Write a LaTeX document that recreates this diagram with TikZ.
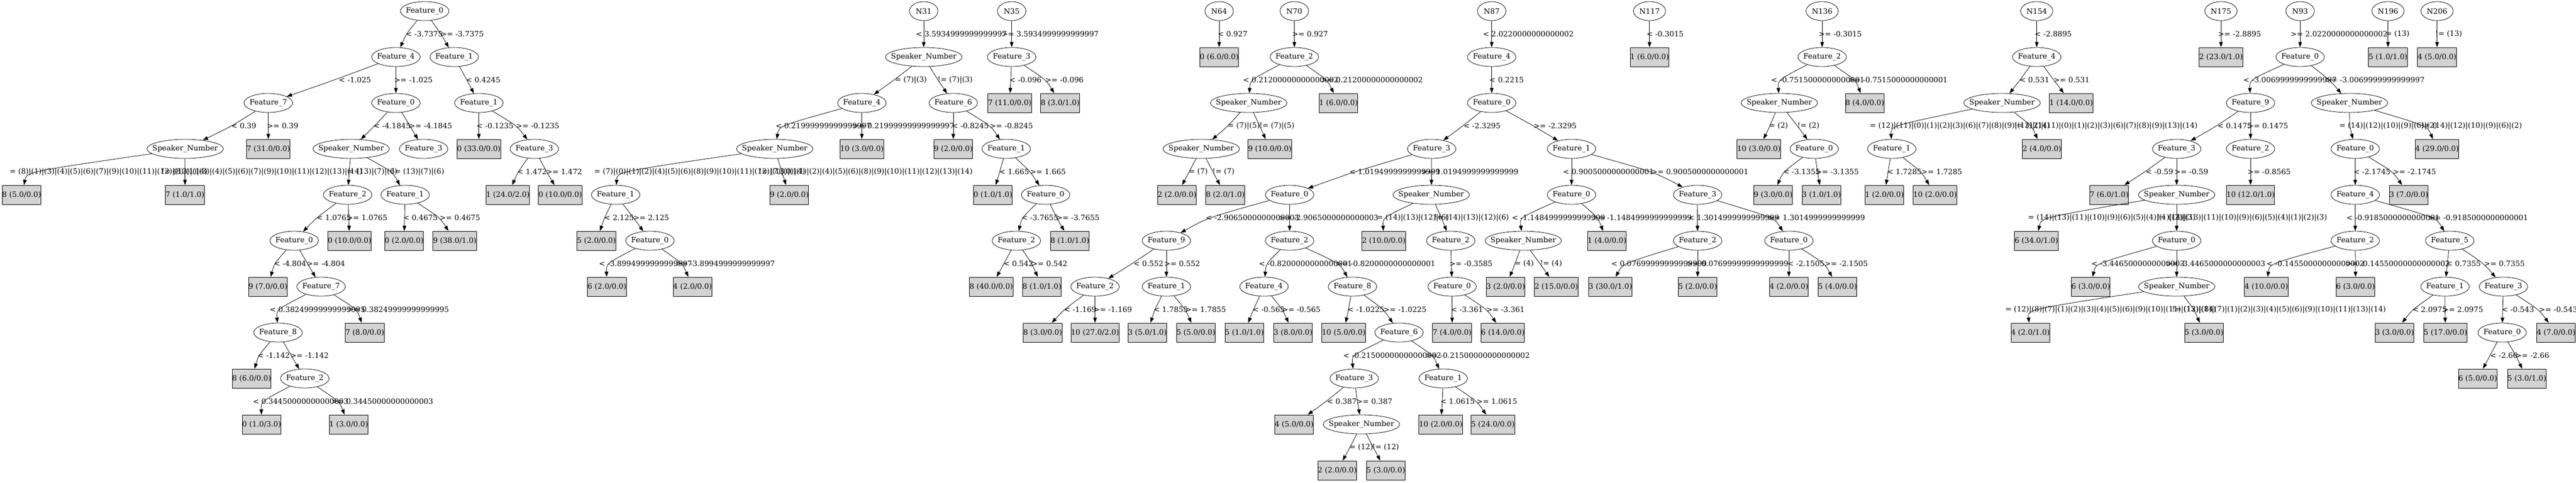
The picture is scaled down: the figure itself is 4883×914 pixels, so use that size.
\documentclass[tikz,border=0pt]{standalone}
\usepackage{fontspec}
\setmainfont{DejaVu Serif}
\usepackage{tikz}
\usetikzlibrary{arrows.meta,shapes.geometric}
\definecolor{leafgray}{HTML}{D3D3D3}
% one branch: parent, child, x of the bend, x of the label, row of the child, label
\newcommand\tbranch[6]{%
  \draw[br] (#1) .. controls (#3,{87*#5-22.5}) .. (#2) node[lbl] at (#4,{87*#5-22.5}) {#6};}

\begin{document}
\begin{tikzpicture}[x=1pt,y=-1pt,
  every node/.style={font=\fontsize{14}{16}\selectfont},
  ell/.style={ellipse,draw,line width=.8pt,minimum height=36pt,inner sep=0pt,
    execute at begin node={\hbox to 0pt\bgroup\hss},execute at end node={\hss\egroup}},
  feat/.style={ell,minimum width=92pt},
  spk/.style={ell,minimum width=145pt},
  root/.style={ell,minimum width=54pt},
  leaf/.style={rectangle,draw,line width=.8pt,fill=leafgray,minimum height=36pt,inner xsep=0pt},
  lbl/.style={anchor=west,inner sep=0pt},
  br/.style={-{Triangle[length=10pt,width=7pt]},line width=.8pt}]
\useasboundingbox (0,0) rectangle (4883,914);
% first tree
\node[feat] (a0) at (805,21) {Feature\_0};
\node[feat] (a1) at (750.5,108) {Feature\_4};
\node[feat] (a2) at (861,108) {Feature\_1};
\node[feat] (a3) at (508.6,195) {Feature\_7};
\node[feat] (a4) at (750.5,195) {Feature\_0};
\node[feat] (a5) at (907.7,195) {Feature\_1};
\node[spk] (a6) at (351,282) {Speaker\_Number};
\node[leaf] (a7) at (508.6,282) {7 (31.0/0.0)};
\node[spk] (a8) at (665.7,282) {Speaker\_Number};
\node[feat] (a9) at (803,282) {Feature\_3};
\node[leaf] (a10) at (907.7,282) {0 (33.0/0.0)};
\node[feat] (a11) at (1013,282) {Feature\_3};
\node[leaf] (a12) at (41,369) {8 (5.0/0.0)};
\node[leaf] (a13) at (350.6,369) {7 (1.0/1.0)};
\node[feat] (a14) at (659,369) {Feature\_2};
\node[feat] (a15) at (768,369) {Feature\_1};
\node[leaf] (a16) at (962.6,369) {1 (24.0/2.0)};
\node[leaf] (a17) at (1062,369) {0 (10.0/0.0)};
\node[feat] (a18) at (557.7,456) {Feature\_0};
\node[leaf] (a19) at (662.6,456) {0 (10.0/0.0)};
\node[leaf] (a20) at (766,456) {0 (2.0/0.0)};
\node[leaf] (a21) at (862,456) {9 (38.0/1.0)};
\node[leaf] (a22) at (508,543) {9 (7.0/0.0)};
\node[feat] (a23) at (608.6,543) {Feature\_7};
\node[feat] (a24) at (527,630) {Feature\_8};
\node[leaf] (a25) at (691.6,630) {7 (8.0/0.0)};
\node[leaf] (a26) at (477,717) {8 (6.0/0.0)};
\node[feat] (a27) at (577.8,717) {Feature\_2};
\node[leaf] (a28) at (496,804) {0 (1.0/3.0)};
\node[leaf] (a29) at (660.8,804) {1 (3.0/0.0)};
% N31
\node[root] (b0) at (1751,21) {N31};
\node[spk] (b1) at (1751,108) {Speaker\_Number};
\node[feat] (b2) at (1633.7,195) {Feature\_4};
\node[feat] (b3) at (1807,195) {Feature\_6};
\node[spk] (b4) at (1468.5,282) {Speaker\_Number};
\node[leaf] (b5) at (1633.7,282) {10 (3.0/0.0)};
\node[leaf] (b6) at (1807,282) {9 (2.0/0.0)};
\node[feat] (b7) at (1907.4,282) {Feature\_1};
\node[feat] (b8) at (1167,369) {Feature\_1};
\node[leaf] (b9) at (1496,369) {9 (2.0/0.0)};
\node[leaf] (b10) at (1882,369) {0 (1.0/1.0)};
\node[feat] (b11) at (1982,369) {Feature\_0};
\node[leaf] (b12) at (1130.5,456) {5 (2.0/0.0)};
\node[feat] (b13) at (1232,456) {Feature\_0};
\node[feat] (b14) at (1926.6,456) {Feature\_2};
\node[leaf] (b15) at (2028,456) {8 (1.0/1.0)};
\node[leaf] (b16) at (1150.6,543) {6 (2.0/0.0)};
\node[leaf] (b17) at (1312.7,543) {4 (2.0/0.0)};
\node[leaf] (b18) at (1879,543) {8 (40.0/0.0)};
\node[leaf] (b19) at (1975,543) {8 (1.0/1.0)};
% N35, N64, N70
\node[root] (c0) at (1917.7,21) {N35};
\node[feat] (c1) at (1917.7,108) {Feature\_3};
\node[leaf] (c2) at (1914,195) {7 (11.0/0.0)};
\node[leaf] (c3) at (2009.6,195) {8 (3.0/1.0)};
\node[root] (d0) at (2311,21) {N64};
\node[leaf] (d1) at (2311,108) {0 (6.0/0.0)};
\node[root] (e0) at (2453.5,21) {N70};
\node[feat] (e1) at (2453.5,108) {Feature\_2};
\node[spk] (e2) at (2367,195) {Speaker\_Number};
\node[leaf] (e3) at (2537,195) {1 (6.0/0.0)};
\node[spk] (e4) at (2277,282) {Speaker\_Number};
\node[leaf] (e5) at (2407,282) {9 (10.0/0.0)};
\node[leaf] (e6) at (2231,369) {2 (2.0/0.0)};
\node[leaf] (e7) at (2322.6,369) {8 (2.0/1.0)};
% N87
\node[root] (f0) at (2827.6,21) {N87};
\node[feat] (f1) at (2827.6,108) {Feature\_4};
\node[feat] (f2) at (2827.6,195) {Feature\_0};
\node[feat] (f3) at (2713.8,282) {Feature\_3};
\node[feat] (f4) at (2979,282) {Feature\_1};
\node[feat] (f5) at (2444.5,369) {Feature\_0};
\node[spk] (f6) at (2713,369) {Speaker\_Number};
\node[feat] (f7) at (2979,369) {Feature\_0};
\node[feat] (f8) at (3218,369) {Feature\_3};
\node[feat] (f9) at (2211,456) {Feature\_9};
\node[feat] (f10) at (2444.5,456) {Feature\_2};
\node[leaf] (f11) at (2623,456) {2 (10.0/0.0)};
\node[feat] (f12) at (2750,456) {Feature\_2};
\node[spk] (f13) at (2887.4,456) {Speaker\_Number};
\node[leaf] (f14) at (3046,456) {1 (4.0/0.0)};
\node[feat] (f15) at (3218,456) {Feature\_2};
\node[feat] (f16) at (3391,456) {Feature\_0};
\node[feat] (f17) at (2075.7,543) {Feature\_2};
\node[feat] (f18) at (2211,543) {Feature\_1};
\node[feat] (f19) at (2396,543) {Feature\_4};
\node[feat] (f20) at (2563.75,543) {Feature\_8};
\node[feat] (f21) at (2752.6,543) {Feature\_0};
\node[leaf] (f22) at (2854,543) {3 (2.0/0.0)};
\node[leaf] (f23) at (2950,543) {2 (15.0/0.0)};
\node[leaf] (f24) at (3052.6,543) {3 (30.0/1.0)};
\node[leaf] (f25) at (3218,543) {5 (2.0/0.0)};
\node[leaf] (f26) at (3391,543) {4 (2.0/0.0)};
\node[leaf] (f27) at (3483,543) {5 (4.0/0.0)};
\node[leaf] (f28) at (1976.6,630) {8 (3.0/0.0)};
\node[leaf] (f29) at (2075.7,630) {10 (27.0/2.0)};
\node[leaf] (f30) at (2174.8,630) {3 (5.0/1.0)};
\node[leaf] (f31) at (2266.8,630) {5 (5.0/0.0)};
\node[leaf] (f32) at (2358.7,630) {5 (1.0/1.0)};
\node[leaf] (f33) at (2451,630) {3 (8.0/0.0)};
\node[leaf] (f34) at (2547,630) {10 (5.0/0.0)};
\node[feat] (f35) at (2652,630) {Feature\_6};
\node[leaf] (f36) at (2752.6,630) {7 (4.0/0.0)};
\node[leaf] (f37) at (2848.6,630) {6 (14.0/0.0)};
\node[feat] (f38) at (2567,717) {Feature\_3};
\node[feat] (f39) at (2735.6,717) {Feature\_1};
\node[leaf] (f40) at (2453,804) {4 (5.0/0.0)};
\node[spk] (f41) at (2580.7,804) {Speaker\_Number};
\node[leaf] (f42) at (2731,804) {10 (2.0/0.0)};
\node[leaf] (f43) at (2829.8,804) {5 (24.0/0.0)};
\node[leaf] (f44) at (2534.7,891) {2 (2.0/0.0)};
\node[leaf] (f45) at (2626.7,891) {5 (3.0/0.0)};
% N117, N136
\node[root,minimum width=61pt] (g0) at (3126.8,21) {N117};
\node[leaf] (g1) at (3126.8,108) {1 (6.0/0.0)};
\node[root,minimum width=61pt] (h0) at (3454,21) {N136};
\node[feat] (h1) at (3454,108) {Feature\_2};
\node[spk] (h2) at (3372.8,195) {Speaker\_Number};
\node[leaf] (h3) at (3534.8,195) {8 (4.0/0.0)};
\node[leaf] (h4) at (3334,282) {10 (3.0/0.0)};
\node[feat] (h5) at (3439,282) {Feature\_0};
\node[leaf] (h6) at (3361,369) {9 (3.0/0.0)};
\node[leaf] (h7) at (3452.7,369) {3 (1.0/1.0)};
% N154, N175
\node[root,minimum width=61pt] (i0) at (3860.8,21) {N154};
\node[feat] (i1) at (3860.8,108) {Feature\_4};
\node[spk] (i2) at (3795,195) {Speaker\_Number};
\node[leaf] (i3) at (3926,195) {1 (14.0/0.0)};
\node[feat] (i4) at (3586,282) {Feature\_1};
\node[leaf] (i5) at (3870.6,282) {2 (4.0/0.0)};
\node[leaf] (i6) at (3572,369) {1 (2.0/0.0)};
\node[leaf] (i7) at (3668,369) {10 (2.0/0.0)};
\node[root,minimum width=61pt] (j0) at (4210,21) {N175};
\node[leaf] (j1) at (4210,108) {2 (23.0/1.0)};
% N93
\node[root] (k0) at (4360,21) {N93};
\node[feat] (k1) at (4360,108) {Feature\_0};
\node[feat] (k2) at (4266,195) {Feature\_9};
\node[spk] (k3) at (4453.5,195) {Speaker\_Number};
\node[feat] (k4) at (4126,282) {Feature\_3};
\node[feat] (k5) at (4266,282) {Feature\_2};
\node[feat] (k6) at (4464.5,282) {Feature\_0};
\node[leaf] (k7) at (4619.6,282) {4 (29.0/0.0)};
\node[leaf] (k8) at (3998,369) {7 (6.0/1.0)};
\node[spk] (k9) at (4126,369) {Speaker\_Number};
\node[leaf] (k10) at (4266,369) {10 (12.0/1.0)};
\node[feat] (k11) at (4464.5,369) {Feature\_4};
\node[leaf] (k12) at (4566,369) {3 (7.0/0.0)};
\node[leaf] (k13) at (3860,456) {6 (34.0/1.0)};
\node[feat] (k14) at (4126,456) {Feature\_0};
\node[feat] (k15) at (4464.5,456) {Feature\_2};
\node[feat] (k16) at (4643.7,456) {Feature\_5};
\node[leaf] (k17) at (3963,543) {6 (3.0/0.0)};
\node[spk] (k18) at (4126,543) {Speaker\_Number};
\node[leaf] (k19) at (4296,543) {4 (10.0/0.0)};
\node[leaf] (k20) at (4465,543) {6 (3.0/0.0)};
\node[feat] (k21) at (4634.7,543) {Feature\_1};
\node[feat] (k22) at (4745.4,543) {Feature\_3};
\node[leaf] (k23) at (3848.75,630) {4 (2.0/1.0)};
\node[leaf] (k24) at (4177.8,630) {5 (3.0/0.0)};
\node[leaf] (k25) at (4539,630) {3 (3.0/0.0)};
\node[leaf] (k26) at (4635.4,630) {5 (17.0/0.0)};
\node[feat] (k27) at (4743,630) {Feature\_0};
\node[leaf] (k28) at (4845,630) {4 (7.0/0.0)};
\node[leaf] (k29) at (4696.8,717) {6 (5.0/0.0)};
\node[leaf] (k30) at (4789.7,717) {5 (3.0/1.0)};
% N196, N206
\node[root,minimum width=61pt] (l0) at (4526.6,21) {N196};
\node[leaf] (l1) at (4526.6,108) {5 (1.0/1.0)};
\node[root,minimum width=61pt] (m0) at (4619.6,21) {N206};
\node[leaf] (m1) at (4619.6,108) {4 (5.0/0.0)};

\tbranch{a0}{a1}{770}{769}{1}{< -3.7375}
\tbranch{a0}{a2}{836}{835}{1}{>= -3.7375}
\tbranch{a1}{a3}{634}{642}{2}{< -1.025}
\tbranch{a1}{a4}{750.5}{747}{2}{>= -1.025}
\tbranch{a3}{a6}{440}{438}{3}{< 0.39}
\tbranch{a3}{a7}{508.6}{506}{3}{>= 0.39}
\tbranch{a6}{a12}{51}{18}{4}{= (8)|(1)|(3)|(4)|(5)|(6)|(7)|(9)|(10)|(11)|(12)|(13)|(14)}
\tbranch{a6}{a13}{350.6}{306}{4}{!= (8)|(1)|(3)|(4)|(5)|(6)|(7)|(9)|(10)|(11)|(12)|(13)|(14)}
\tbranch{a4}{a8}{710}{708}{3}{< -4.1845}
\tbranch{a4}{a9}{777}{775}{3}{>= -4.1845}
\tbranch{a8}{a14}{662}{659}{4}{= (13)|(7)|(6)}
\tbranch{a8}{a15}{744}{742}{4}{!= (13)|(7)|(6)}
\tbranch{a14}{a18}{600}{600}{5}{< 1.0765}
\tbranch{a14}{a19}{661}{657}{5}{>= 1.0765}
\tbranch{a15}{a20}{767}{764}{5}{< 0.4675}
\tbranch{a15}{a21}{834}{833}{5}{>= 0.4675}
\tbranch{a18}{a22}{520}{519}{6}{< -4.804}
\tbranch{a18}{a23}{583}{581}{6}{>= -4.804}
\tbranch{a23}{a24}{524}{511}{7}{< 0.38249999999999995}
\tbranch{a23}{a25}{677}{658}{7}{>= 0.38249999999999995}
\tbranch{a24}{a26}{490}{488}{8}{< -1.142}
\tbranch{a24}{a27}{552}{550}{8}{>= -1.142}
\tbranch{a27}{a28}{495}{479}{9}{< 0.34450000000000003}
\tbranch{a27}{a29}{643}{628}{9}{>= 0.34450000000000003}
\tbranch{a2}{a5}{885}{883}{2}{< 0.4245}
\tbranch{a5}{a10}{907.7}{903}{3}{< -0.1235}
\tbranch{a5}{a11}{980}{978}{3}{>= -0.1235}
\tbranch{a11}{a16}{982}{980}{4}{< 1.472}
\tbranch{a11}{a17}{1036}{1035}{4}{>= 1.472}

\tbranch{b0}{b1}{1751}{1736}{1}{< 3.5934999999999997}
\tbranch{b1}{b2}{1695}{1696}{2}{= (7)|(3)}
\tbranch{b1}{b3}{1778}{1777}{2}{!= (7)|(3)}
\tbranch{b2}{b4}{1477}{1470}{3}{< 0.21999999999999997}
\tbranch{b2}{b5}{1633.7}{1616}{3}{>= 0.21999999999999997}
\tbranch{b4}{b8}{1170}{1126}{4}{= (7)|(0)|(1)|(2)|(4)|(5)|(6)|(8)|(9)|(10)|(11)|(12)|(13)|(14)}
\tbranch{b4}{b9}{1482}{1438}{4}{!= (7)|(0)|(1)|(2)|(4)|(5)|(6)|(8)|(9)|(10)|(11)|(12)|(13)|(14)}
\tbranch{b8}{b12}{1146}{1145}{5}{< 2.125}
\tbranch{b8}{b13}{1201}{1200}{5}{>= 2.125}
\tbranch{b13}{b16}{1149}{1135}{6}{< -3.8994999999999997}
\tbranch{b13}{b17}{1294}{1280}{6}{>= -3.8994999999999997}
\tbranch{b3}{b6}{1807}{1804}{3}{< -0.8245}
\tbranch{b3}{b7}{1878}{1876}{3}{>= -0.8245}
\tbranch{b7}{b10}{1895}{1894}{4}{< 1.665}
\tbranch{b7}{b11}{1953}{1952}{4}{>= 1.665}
\tbranch{b11}{b14}{1937}{1936}{5}{< -3.7655}
\tbranch{b11}{b15}{2003}{2002}{5}{>= -3.7655}
\tbranch{b14}{b18}{1903}{1902}{6}{< 0.542}
\tbranch{b14}{b19}{1956}{1955}{6}{>= 0.542}

\tbranch{c0}{c1}{1917.7}{1898.5}{1}{>= 3.5934999999999997}
\tbranch{c1}{c2}{1916}{1913}{2}{< -0.096}
\tbranch{c1}{c3}{1983}{1981}{2}{>= -0.096}
\tbranch{d0}{d1}{2311}{2308}{1}{< 0.927}
\tbranch{e0}{e1}{2453.5}{2449}{1}{>= 0.927}
\tbranch{e1}{e2}{2370}{2356}{2}{< 0.21200000000000002}
\tbranch{e1}{e3}{2516}{2504}{2}{>= 0.21200000000000002}
\tbranch{e2}{e4}{2328}{2327}{3}{= (7)|(5)}
\tbranch{e2}{e5}{2388}{2387}{3}{!= (7)|(5)}
\tbranch{e4}{e6}{2254}{2253}{4}{= (7)}
\tbranch{e4}{e7}{2299}{2298}{4}{!= (7)}

\tbranch{f0}{f1}{2827.6}{2810.6}{1}{< 2.0220000000000002}
\tbranch{f1}{f2}{2827.6}{2823}{2}{< 0.2215}
\tbranch{f2}{f3}{2773}{2774}{3}{< -2.3295}
\tbranch{f2}{f4}{2907}{2906.6}{3}{>= -2.3295}
\tbranch{f3}{f5}{2567}{2557.5}{4}{< 1.0194999999999999}
\tbranch{f3}{f6}{2713.7}{2694}{4}{>= 1.0194999999999999}
\tbranch{f5}{f9}{2289}{2285.5}{5}{< -2.9065000000000003}
\tbranch{f5}{f10}{2444.5}{2424}{5}{>= -2.9065000000000003}
\tbranch{f9}{f17}{2146}{2148.5}{6}{< 0.552}
\tbranch{f9}{f18}{2211}{2206.5}{6}{>= 0.552}
\tbranch{f17}{f28}{2017}{2016.8}{7}{< -1.169}
\tbranch{f17}{f29}{2075.7}{2072.6}{7}{>= -1.169}
\tbranch{f18}{f30}{2189}{2186.4}{7}{< 1.7855}
\tbranch{f18}{f31}{2247}{2246.7}{7}{>= 1.7855}
\tbranch{f10}{f19}{2400}{2386}{6}{< -0.8200000000000001}
\tbranch{f10}{f20}{2540}{2532}{6}{>= -0.8200000000000001}
\tbranch{f19}{f32}{2376}{2374}{7}{< -0.565}
\tbranch{f19}{f33}{2431}{2430}{7}{>= -0.565}
\tbranch{f20}{f34}{2556}{2554}{7}{< -1.0225}
\tbranch{f20}{f35}{2623}{2622}{7}{>= -1.0225}
\tbranch{f35}{f38}{2562}{2546}{8}{< -0.21500000000000002}
\tbranch{f35}{f39}{2717}{2702}{8}{>= -0.21500000000000002}
\tbranch{f38}{f40}{2514}{2515}{9}{< 0.387}
\tbranch{f38}{f41}{2573}{2571}{9}{>= 0.387}
\tbranch{f41}{f44}{2559}{2557.5}{10}{= (12)}
\tbranch{f41}{f45}{2603}{2601}{10}{!= (12)}
\tbranch{f39}{f42}{2734}{2730}{9}{< 1.0615}
\tbranch{f39}{f43}{2800}{2798.6}{9}{>= 1.0615}
\tbranch{f6}{f11}{2621}{2609.7}{5}{= (14)|(13)|(12)|(6)}
\tbranch{f6}{f12}{2732}{2718}{5}{!= (14)|(13)|(12)|(6)}
\tbranch{f12}{f21}{2751}{2747}{6}{>= -0.3585}
\tbranch{f21}{f36}{2752.6}{2750}{7}{< -3.361}
\tbranch{f21}{f37}{2819}{2817}{7}{>= -3.361}
\tbranch{f4}{f7}{2979}{2962.4}{4}{< 0.9005000000000001}
\tbranch{f4}{f8}{3134}{3130}{4}{>= 0.9005000000000001}
\tbranch{f7}{f13}{2880}{2865.5}{5}{< -1.1484999999999999}
\tbranch{f7}{f14}{3029}{3018}{5}{>= -1.1484999999999999}
\tbranch{f13}{f22}{2872}{2871}{6}{= (4)}
\tbranch{f13}{f23}{2919}{2919}{6}{!= (4)}
\tbranch{f8}{f15}{3217.4}{3200}{5}{< 1.3014999999999999}
\tbranch{f8}{f16}{3363}{3351}{5}{>= 1.3014999999999999}
\tbranch{f15}{f24}{3076}{3054}{6}{< 0.07699999999999999}
\tbranch{f15}{f25}{3218}{3197}{6}{>= 0.07699999999999999}
\tbranch{f16}{f26}{3391}{3388}{6}{< -2.1505}
\tbranch{f16}{f27}{3459}{3458.5}{6}{>= -2.1505}

\tbranch{g0}{g1}{3126.8}{3121}{1}{< -0.3015}
\tbranch{h0}{h1}{3454}{3447}{1}{>= -0.3015}
\tbranch{h1}{h2}{3370}{3357}{2}{< -0.7515000000000001}
\tbranch{h1}{h3}{3517}{3503}{2}{>= -0.7515000000000001}
\tbranch{h2}{h4}{3355}{3353}{3}{= (2)}
\tbranch{h2}{h5}{3407}{3406.7}{3}{!= (2)}
\tbranch{h5}{h6}{3380}{3380}{4}{< -3.1355}
\tbranch{h5}{h7}{3445}{3441.5}{4}{>= -3.1355}
\tbranch{i0}{i1}{3860.8}{3856.8}{1}{< -2.8895}
\tbranch{i1}{i2}{3829}{3828}{2}{< 0.531}
\tbranch{i1}{i3}{3893}{3892.5}{2}{>= 0.531}
\tbranch{i2}{i4}{3584}{3544}{3}{= (12)|(11)|(0)|(1)|(2)|(3)|(6)|(7)|(8)|(9)|(13)|(14)}
\tbranch{i2}{i5}{3851}{3818}{3}{!= (12)|(11)|(0)|(1)|(2)|(3)|(6)|(7)|(8)|(9)|(13)|(14)}
\tbranch{i4}{i6}{3579}{3577}{4}{< 1.7285}
\tbranch{i4}{i7}{3642}{3642}{4}{>= 1.7285}
\tbranch{j0}{j1}{4210}{4204}{1}{>= -2.8895}

\tbranch{k0}{k1}{4360}{4341.6}{1}{>= 2.0220000000000002}
\tbranch{k1}{k2}{4264}{4252}{2}{< -3.0069999999999997}
\tbranch{k1}{k3}{4416}{4407}{2}{>= -3.0069999999999997}
\tbranch{k2}{k4}{4202}{4203}{3}{< 0.1475}
\tbranch{k2}{k5}{4266}{4260}{3}{>= 0.1475}
\tbranch{k4}{k8}{4066}{4067}{4}{< -0.59}
\tbranch{k4}{k9}{4126}{4121.5}{4}{>= -0.59}
\tbranch{k5}{k10}{4266}{4260}{4}{>= -0.8565}
\tbranch{k9}{k13}{3869}{3844}{5}{= (14)|(13)|(11)|(10)|(9)|(6)|(5)|(4)|(1)|(2)|(3)}
\tbranch{k9}{k14}{4126}{4088}{5}{!= (14)|(13)|(11)|(10)|(9)|(6)|(5)|(4)|(1)|(2)|(3)}
\tbranch{k14}{k17}{3972}{3964}{6}{< -3.4465000000000003}
\tbranch{k14}{k18}{4126}{4105}{6}{>= -3.4465000000000003}
\tbranch{k18}{k23}{3843}{3801}{7}{= (12)|(8)|(7)|(1)|(2)|(3)|(4)|(5)|(6)|(9)|(10)|(11)|(13)|(14)}
\tbranch{k18}{k24}{4159}{4117}{7}{!= (12)|(8)|(7)|(1)|(2)|(3)|(4)|(5)|(6)|(9)|(10)|(11)|(13)|(14)}
\tbranch{k3}{k6}{4454}{4434}{3}{= (14)|(12)|(10)|(9)|(6)|(2)}
\tbranch{k3}{k7}{4601}{4589}{3}{!= (14)|(12)|(10)|(9)|(6)|(2)}
\tbranch{k6}{k11}{4464.5}{4461}{4}{< -2.1745}
\tbranch{k6}{k12}{4536}{4535.7}{4}{>= -2.1745}
\tbranch{k11}{k15}{4464.5}{4447.4}{5}{< -0.9185000000000001}
\tbranch{k11}{k16}{4618}{4603}{5}{>= -0.9185000000000001}
\tbranch{k15}{k19}{4302}{4296}{6}{< -0.14550000000000002}
\tbranch{k15}{k20}{4465}{4446}{6}{>= -0.14550000000000002}
\tbranch{k16}{k21}{4639}{4637}{6}{< 0.7355}
\tbranch{k16}{k22}{4708.5}{4708.5}{6}{>= 0.7355}
\tbranch{k21}{k25}{4573}{4572.6}{7}{< 2.0975}
\tbranch{k21}{k26}{4634.7}{4629.6}{7}{>= 2.0975}
\tbranch{k22}{k27}{4744}{4742}{7}{< -0.543}
\tbranch{k22}{k28}{4812.5}{4812.5}{7}{>= -0.543}
\tbranch{k27}{k29}{4720}{4720}{8}{< -2.66}
\tbranch{k27}{k30}{4769}{4768}{8}{>= -2.66}
\tbranch{l0}{l1}{4526.6}{4522}{1}{= (13)}
\tbranch{m0}{m1}{4619.6}{4616}{1}{!= (13)}
\end{tikzpicture}
\end{document}
